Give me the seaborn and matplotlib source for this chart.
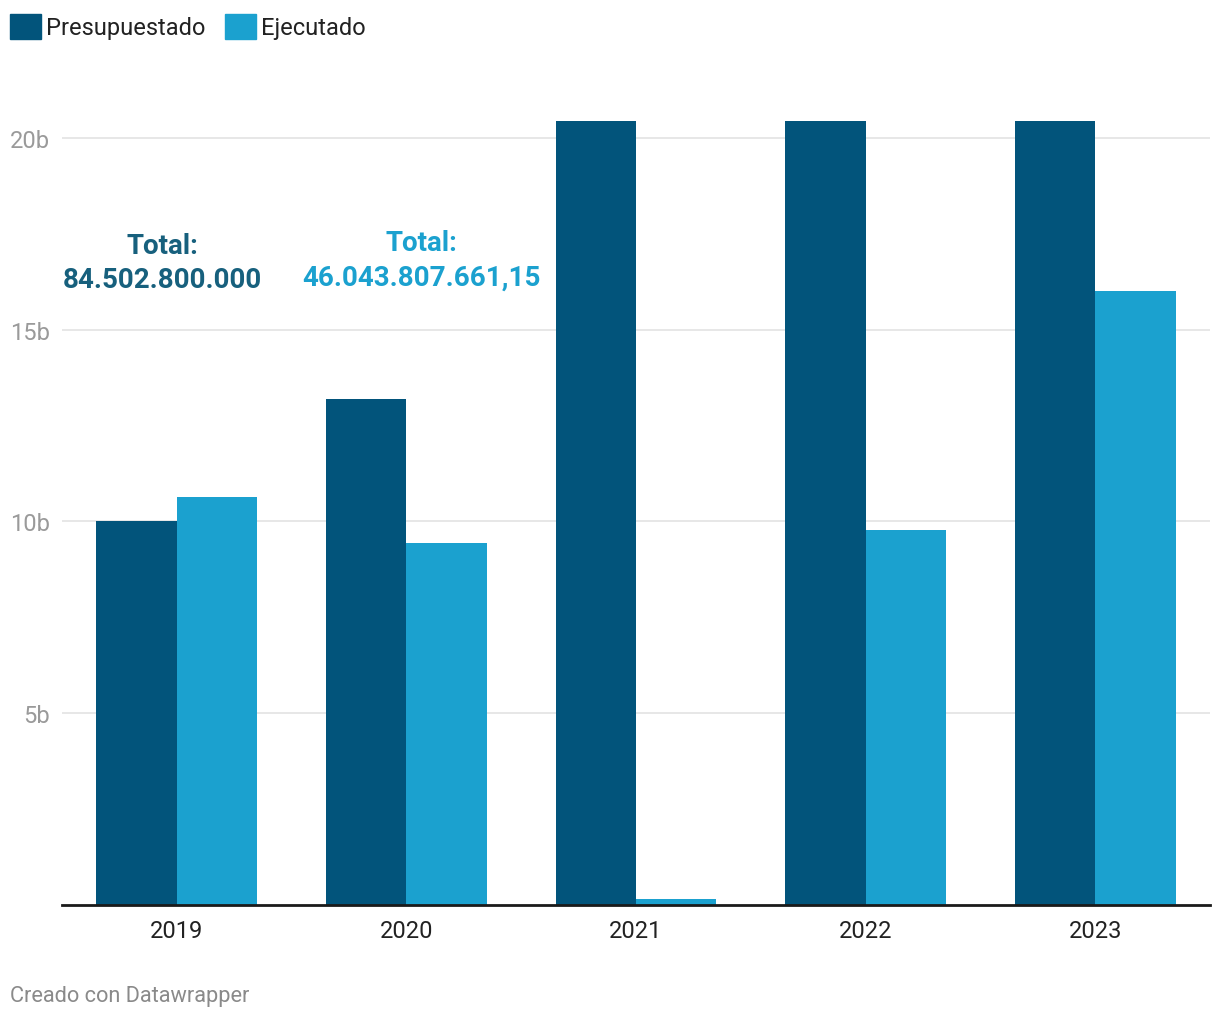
import matplotlib.pyplot as plt
import matplotlib.patches as mpatches
import pandas as pd
import seaborn as sns

# Data (billions)
years = ["2019", "2020", "2021", "2022", "2023"]
presupuestado = [10.0, 13.19, 20.44, 20.44, 20.44]
ejecutado = [10.64, 9.44, 0.15, 9.78, 16.01]
series = ["Presupuestado", "Ejecutado"]
colors = ["#02547b", "#1ba1cf"]
total_labels = ["Total:\n84.502.800.000", "Total:\n46.043.807.661,15"]
total_colors = ["#17607d", "#1ba1cf"]
yticks = [5, 10, 15, 20]
ytick_labels = ["5b", "10b", "15b", "20b"]

sns.set_theme(style="white")
plt.rcParams["font.family"] = ["Roboto", "DejaVu Sans"]

df = pd.DataFrame({
    "Año": years * 2,
    "Valor": presupuestado + ejecutado,
    "Serie": [series[0]] * len(years) + [series[1]] * len(years),
})

fig = plt.figure(figsize=(12.2, 10.2), dpi=100)
ax = fig.add_axes([62 / 1220, 1 - 906 / 1020, 1148 / 1220, (906 - 100.6) / 1020])

sns.barplot(data=df, x="Año", y="Valor", hue="Serie", palette=colors,
            width=0.7, saturation=1, linewidth=0, ax=ax, legend=False)

ax.set_xlim(-0.5, 4.5)
ax.set_ylim(0, 21)
ax.set_xlabel("")
ax.set_ylabel("")
ax.set_yticks(yticks)
ax.set_yticklabels(ytick_labels, color="#9a9a9a", fontsize=17)
ax.tick_params(axis="y", length=0, pad=8.6)
ax.tick_params(axis="x", length=0, pad=10, labelsize=17, labelcolor="#222222")
ax.yaxis.grid(True, color="#e3e3e3", linewidth=1.2)
ax.set_axisbelow(True)
for side in ["top", "right", "left"]:
    ax.spines[side].set_visible(False)
ax.spines["bottom"].set_color("#1a1a1a")
ax.spines["bottom"].set_linewidth(2)

# Total annotations
ax.text(-0.064, 16.75, total_labels[0], ha="center", va="center",
        fontsize=20, fontweight="bold", color=total_colors[0], linespacing=1.36)
ax.text(1.064, 16.83, total_labels[1], ha="center", va="center",
        fontsize=20, fontweight="bold", color=total_colors[1], linespacing=1.36)

# Legend
handles = [mpatches.Patch(color=c, label=s) for s, c in zip(series, colors)]
fig.legend(handles=handles, loc="upper left",
           bbox_to_anchor=(10 / 1220, 1 - 14.5 / 1020), ncol=2,
           frameon=False, fontsize=17, handlelength=1.3, handleheight=1.3,
           handletextpad=0.22, columnspacing=0.85, borderaxespad=0,
           borderpad=0, labelcolor="#222222")

fig.text(10 / 1220, 1 - 997 / 1020, "Creado con Datawrapper", ha="left",
         va="center", fontsize=15.7, color="#8a8a8a")

fig.savefig("out.png", dpi=100)
